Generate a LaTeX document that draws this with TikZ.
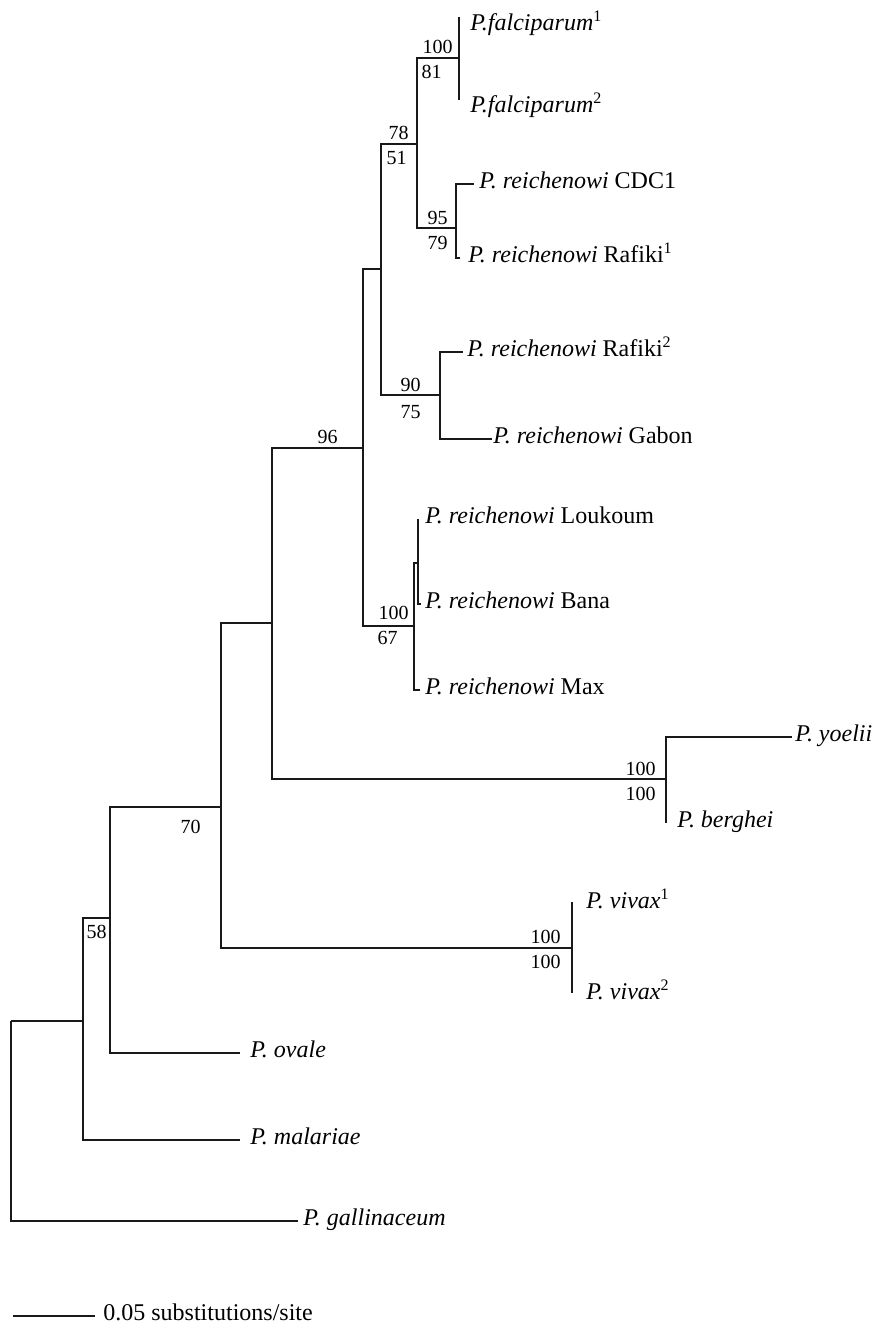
\documentclass[tikz,border=0pt]{standalone}
\usepackage{fontspec}
\setmainfont{Liberation Serif}
\usetikzlibrary{positioning}

\begin{document}
\begin{tikzpicture}[x=0.5pt,y=-0.5pt,
  branch/.style={line width=0.85pt,black!90},
  taxon/.style={inner sep=0pt,font=\fontsize{12}{14}\selectfont,text height=7.2pt,text depth=3.1pt},
  boot/.style={inner sep=0pt,font=\fontsize{10}{12}\selectfont}]

  \useasboundingbox (0,0) rectangle (880,1328);

  % internal nodes
  \coordinate (root) at (11,1021);
  \coordinate (nmal) at (83,1021);
  \coordinate (n58) at (110,918);
  \coordinate (n70) at (221,807);
  \coordinate (nmam) at (272,623);
  \coordinate (n96) at (363,448);
  \coordinate (nrei) at (381,269);
  \coordinate (n78) at (417,144);
  \coordinate (nfal) at (459,58);
  \coordinate (n95) at (456,228);
  \coordinate (n90) at (440,395);
  \coordinate (nlou) at (414,626);
  \coordinate (nban) at (418,563);
  \coordinate (nrod) at (666,779);
  \coordinate (nviv) at (572,948);

  % tips
  \coordinate (tfal1) at (459,17);
  \coordinate (tfal2) at (459,100);
  \coordinate (tcdc) at (474,184);
  \coordinate (traf1) at (460,258);
  \coordinate (traf2) at (463,352);
  \coordinate (tgab) at (492,439);
  \coordinate (tlou) at (418,519);
  \coordinate (tban) at (421,604);
  \coordinate (tmax) at (420,690);
  \coordinate (tyoe) at (792,737);
  \coordinate (tber) at (666,823);
  \coordinate (tviv1) at (572,902);
  \coordinate (tviv2) at (572,993);
  \coordinate (tova) at (240,1053);
  \coordinate (tmal) at (240,1140);
  \coordinate (tgal) at (298,1221);

  % branches
  \foreach \a/\b in {root/nmal,root/tgal,nmal/n58,nmal/tmal,n58/n70,n58/tova,
      n70/nmam,n70/nviv,nviv/tviv1,nviv/tviv2,nmam/n96,nmam/nrod,nrod/tyoe,nrod/tber,
      n96/nrei,n96/nlou,nrei/n78,nrei/n90,n78/nfal,n78/n95,nfal/tfal1,nfal/tfal2,
      n95/tcdc,n95/traf1,n90/traf2,n90/tgab,nlou/nban,nlou/tmax,nban/tlou,nban/tban}
    \draw[branch] (\a) |- (\b);

  % taxa
  \node[taxon,right=5.5pt of tfal1,yshift=-4.5pt] (lfal1) {\textit{P.falciparum}\textsuperscript{1}};
  \node[taxon,right=5.5pt of tfal2,yshift=-4pt] (lfal2) {\textit{P.falciparum}\textsuperscript{2}};
  \node[taxon,right=2.5pt of tcdc] (lcdc) {\textit{P. reichenowi} CDC1};
  \node[taxon,right=4pt of traf1] (lraf1) {\textit{P. reichenowi} Rafiki\textsuperscript{1}};
  \node[taxon,right=2pt of traf2] (lraf2) {\textit{P. reichenowi} Rafiki\textsuperscript{2}};
  \node[taxon,right=0.5pt of tgab] (lgab) {\textit{P. reichenowi} Gabon};
  \node[taxon,right=3.5pt of tlou] (llou) {\textit{P. reichenowi} Loukoum};
  \node[taxon,right=2pt of tban] (lban) {\textit{P. reichenowi} Bana};
  \node[taxon,right=2.5pt of tmax] (lmax) {\textit{P. reichenowi} Max};
  \node[taxon,right=1.5pt of tyoe] (lyoe) {\textit{P. yoelii}};
  \node[taxon,right=5.5pt of tber] (lber) {\textit{P. berghei}};
  \node[taxon,right=7pt of tviv1,yshift=-1pt] (lviv1) {\textit{P. vivax}\textsuperscript{1}};
  \node[taxon,right=7pt of tviv2,yshift=-1pt] (lviv2) {\textit{P. vivax}\textsuperscript{2}};
  \node[taxon,right=5pt of tova] (lova) {\textit{P. ovale}};
  \node[taxon,right=5pt of tmal] (lmal) {\textit{P. malariae}};
  \node[taxon,right=2.5pt of tgal] (lgal) {\textit{P. gallinaceum}};

  % bootstrap values
  \node[boot,above left=2pt and 3pt of nfal] (bfa) {100};
  \node[boot,below left=3.5pt and 8.5pt of nfal] (bfb) {81};
  \node[boot,above left=2pt and 4pt of n78] (b78a) {78};
  \node[boot,below left=3.5pt and 5pt of n78] (b78b) {51};
  \node[boot,above left=1.5pt and 4pt of n95] (b95a) {95};
  \node[boot,below left=4pt and 4pt of n95] (b95b) {79};
  \node[boot,above left=1.5pt and 9.5pt of n90] (b90a) {90};
  \node[boot,below left=5pt and 9.5pt of n90] (b90b) {75};
  \node[boot,above left=2pt and 12.5pt of n96] (b96) {96};
  \node[boot,above left=3pt and 2.5pt of nlou] (bloa) {100};
  \node[boot,below left=2.5pt and 8pt of nlou] (blob) {67};
  \node[boot,above left=1.5pt and 5pt of nrod] (broa) {100};
  \node[boot,below left=4pt and 5pt of nrod] (brob) {100};
  \node[boot,above left=2pt and 5.5pt of nviv] (bvia) {100};
  \node[boot,below left=3.5pt and 5.5pt of nviv] (bvib) {100};
  \node[boot,below left=6.5pt and 10pt of n70] (b70) {70};
  \node[boot,below left=3.5pt and 1.5pt of n58] (b58) {58};

  % scale bar
  \coordinate (sb0) at (13,1316);
  \coordinate (sb1) at (95,1316);
  \draw[branch] (sb0) -- (sb1);
  \node[taxon,right=4pt of sb1] (lsb) {0.05 substitutions/site};

\end{tikzpicture}
\end{document}
